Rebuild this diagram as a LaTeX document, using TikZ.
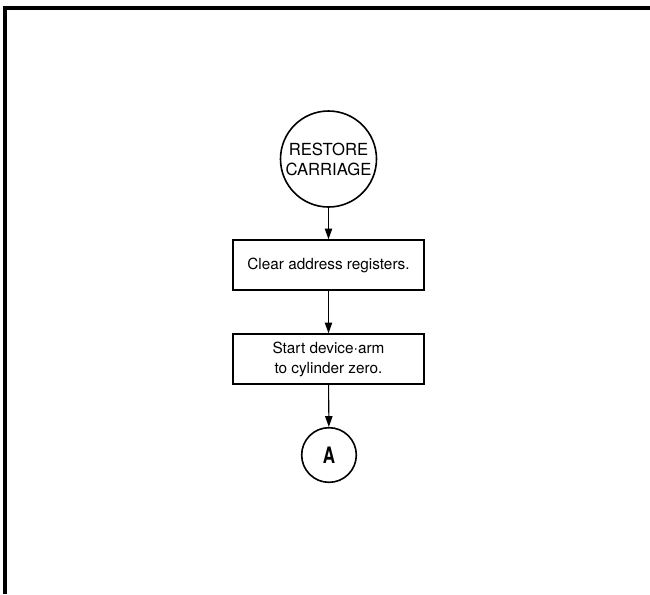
\documentclass[tikz,border=0pt]{standalone}
\usepackage{fontspec}
\setmainfont{TeX Gyre Heros}
\usetikzlibrary{arrows.meta}

\begin{document}
\begin{tikzpicture}[x=0.75pt,y=-0.75pt,
    terminal/.style={draw, line width=1.2pt, circle, inner sep=0pt, align=center},
    stepbox/.style={draw, line width=1.1pt, minimum width=143pt, minimum height=37.5pt, align=center,
        font=\fontsize{11.5}{15}\selectfont},
    flow/.style={-{Triangle[length=8pt,width=5.5pt]}, line width=0.8pt}]
            % Frame:
            \useasboundingbox (0,0) rectangle (650,594);
            \draw [line width=2.4pt] (5,594) -- (5,8) -- (650,8);

            % Chart:
            \node [terminal, minimum size=72pt, font=\fontsize{12.5}{15}\selectfont] (restore) at (328.5,159) {RESTORE\\CARRIAGE};
            \node [stepbox] (clear) at (328.5,265) {Clear address registers.};
            \node [stepbox] (start) at (328.5,359) {Start device$\cdot$arm\\to cylinder zero.};
            \node [terminal, minimum size=41pt, font=\fontsize{17}{20}\selectfont\bfseries] (conn) at (329,455) {\scalebox{0.75}[1]{A}};

            \draw [flow] (restore) -- (clear);
            \draw [flow] (clear) -- (start);
            \draw [flow] (start) -- (conn);
        \end{tikzpicture}
\end{document}
